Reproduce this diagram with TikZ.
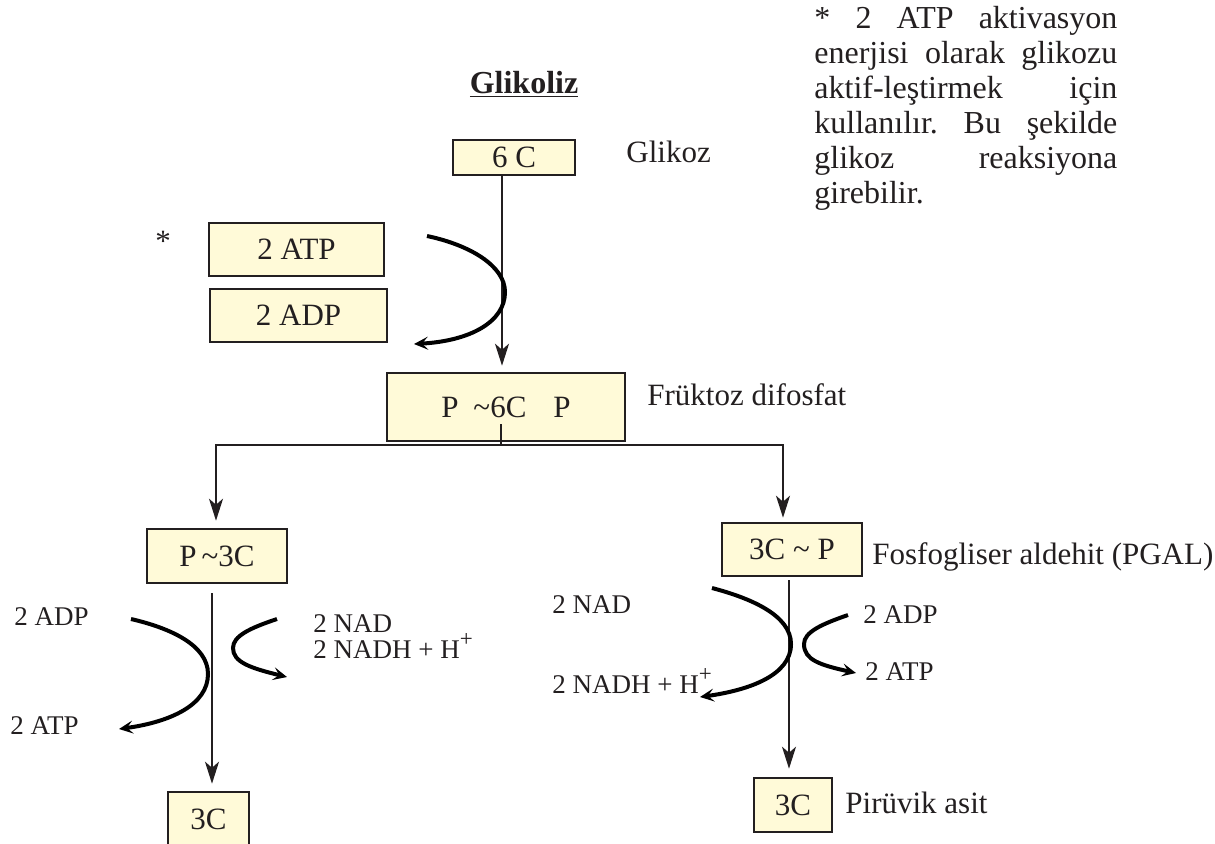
\documentclass[tikz,border=0pt]{standalone}
\usepackage{fontspec}
\setmainfont{Liberation Serif}
\definecolor{boxyellow}{RGB}{255, 250, 216}
\definecolor{inkgray}{RGB}{35, 31, 32}
\usetikzlibrary{arrows.meta}
\newcommand{\fullline}[1]{\makebox[151.5pt][l]{#1}}
\newcommand{\hplus}{\raisebox{0.42em}{\fontsize{11.5}{12}\selectfont +}}

\begin{document}
\begin{tikzpicture}[x=0.5pt,y=-0.5pt,
    box/.style={draw=inkgray,line width=1.3pt,fill=boxyellow,rectangle,inner sep=0pt,font=\fontsize{15.5}{18}\selectfont,text=inkgray},
    lbl/.style={anchor=base west,inner sep=0pt,font=\fontsize{15.5}{18}\selectfont,text=inkgray},
    rxn/.style={anchor=base west,inner sep=0pt,font=\fontsize{13.5}{16}\selectfont,text=inkgray},
    stem/.style={draw=inkgray,line width=1pt},
    flow/.style={stem,-{Stealth[length=11pt,width=7pt,inset=3pt]}},
    turn/.style={draw=black,line width=2pt,-{Stealth[length=7pt,width=6.5pt,inset=3pt]}}]
    \clip (0,0) rectangle (1215,843);

    % title and note
    \node[anchor=base,inner sep=0pt,font=\fontsize{16}{19}\selectfont\bfseries,text=inkgray] (title) at (524,93) {\underline{Glikoliz}};
    \node[anchor=north west,inner sep=0pt,text width=151.5pt,align=left,font=\fontsize{16}{17.5}\selectfont,text=inkgray] (note) at (814,6)
        {\fullline{*\hfill 2\hfill ATP\hfill aktivasyon}\\
         \fullline{enerjisi\hfill olarak\hfill glikozu}\\
         \fullline{aktif-leştirmek\hfill için}\\
         \fullline{kullanılır.\hfill Bu\hfill şekilde}\\
         \fullline{glikoz\hfill reaksiyona}\\
         girebilir.};

    % boxes
    \node[box,minimum width=61pt,minimum height=17.5pt] (c6) at (514,157.5) {6 C};
    \node[box,minimum width=87.5pt,minimum height=26.5pt] (atp) at (296.5,249.5) {2 ATP};
    \node[box,minimum width=88.5pt,minimum height=26.5pt] (adp) at (298.5,315.5) {2 ADP};
    \node[box,minimum width=119pt,minimum height=34pt] (fdp) at (506,407) {P\hspace{7.5pt}\textasciitilde 6C\hspace{13.5pt}P};
    \node[box,minimum width=70pt,minimum height=27pt] (p3c) at (217,556) {P\,\textasciitilde 3C};
    \node[box,minimum width=70pt,minimum height=26.5pt] (pgal) at (792,549.5) {3C \textasciitilde{} P};
    \node[box,minimum width=40.5pt,minimum height=27pt] (pyrL) at (208.5,819) {3C};
    \node[box,minimum width=39pt,minimum height=27pt] (pyrR) at (793,805) {3C};

    % labels
    \node[inner sep=0pt,font=\fontsize{15.5}{18}\selectfont,text=inkgray] (star) at (163,241) {*};
    \node[lbl] (glikoz) at (626,162) {Glikoz};
    \node[lbl] (fruktoz) at (647,405) {Früktoz difosfat};
    \node[lbl] (pgalname) at (872,564) {Fosfogliser aldehit (PGAL)};
    \node[lbl] (piruvik) at (845,813) {Pirüvik asit};
    \node[rxn] (adpL) at (14,625) {2 ADP};
    \node[rxn] (atpL) at (10,734) {2 ATP};
    \node[rxn] (nadL) at (313,632) {2 NAD};
    \node[rxn] (nadhL) at (313,658) {2 NADH + H\hplus};
    \node[rxn] (nadR) at (552,613) {2 NAD};
    \node[rxn] (nadhR) at (552,693) {2 NADH + H\hplus};
    \node[rxn] (adpR) at (863,623) {2 ADP};
    \node[rxn] (atpR) at (865,680) {2 ATP};

    % main flow
    \coordinate (trunk) at (502,0);
    \coordinate (tick) at (501,424);
    \coordinate (split) at (501,445);
    \coordinate (lbranch) at (216,445);
    \coordinate (rbranch) at (783,445);
    \coordinate (ltrunk) at (212,0);
    \coordinate (rtrunk) at (789,0);
    \draw[flow,shorten >=3pt] (c6.south -| trunk) -- (fdp.north -| trunk);
    \draw[stem] (tick) -- (split);
    \draw[flow,shorten >=3.5pt] (split) -- (lbranch) -- (p3c.north -| lbranch);
    \draw[flow,shorten >=2pt] (split) -- (rbranch) -- (pgal.north -| rbranch);
    \draw[flow,shorten <=4.5pt,shorten >=3.5pt] (p3c.south -| ltrunk) -- (pyrL.north -| ltrunk);
    \draw[flow,shorten <=1.5pt,shorten >=4pt] (pgal.south -| rtrunk) -- (pyrR.north -| rtrunk);

    % side reactions
    \coordinate (atpIn) at (427,236);
    \coordinate (atpTurn) at (505,292);
    \coordinate (adpOut) at (414,344);
    \draw[turn] (atpIn) .. controls (470,245) and (505,266) .. (atpTurn) .. controls (505,322) and (470,341) .. (adpOut);

    \coordinate (adpIn) at (131,619);
    \coordinate (adpTurn) at (208,674);
    \coordinate (atpOut) at (119,729);
    \draw[turn] (adpIn) .. controls (170,628) and (208,645) .. (adpTurn) .. controls (208,705) and (170,722) .. (atpOut);

    \coordinate (nadIn) at (277,619);
    \coordinate (nadTurn) at (233,648);
    \coordinate (nadhOut) at (287,677);
    \draw[turn] (nadIn) .. controls (250,628) and (233,636) .. (nadTurn) .. controls (233,662) and (250,668) .. (nadhOut);

    \coordinate (nadIn2) at (712,588);
    \coordinate (nadTurn2) at (791,644);
    \coordinate (nadhOut2) at (700,697);
    \draw[turn] (nadIn2) .. controls (750,598) and (791,615) .. (nadTurn2) .. controls (791,675) and (750,690) .. (nadhOut2);

    \coordinate (adpIn2) at (848,615);
    \coordinate (adpTurn2) at (804,644);
    \coordinate (atpOut2) at (856,673);
    \draw[turn] (adpIn2) .. controls (822,624) and (804,632) .. (adpTurn2) .. controls (804,660) and (820,665) .. (atpOut2);
\end{tikzpicture}
\end{document}
